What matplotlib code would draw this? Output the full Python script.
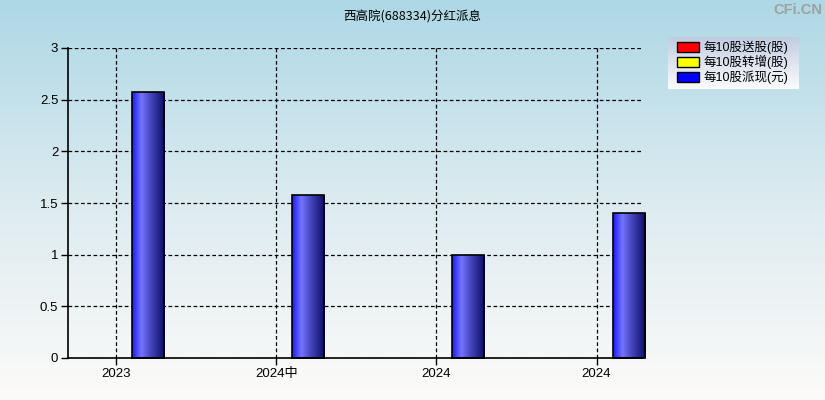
import numpy as np
import matplotlib
matplotlib.use("Agg")
import matplotlib.pyplot as plt
from matplotlib.colors import LinearSegmentedColormap
from matplotlib.patches import Rectangle

plt.rcParams['font.family'] = ['Liberation Sans', 'Noto Sans CJK SC', 'DejaVu Sans']

title = "西高院(688334)分红派息"
categories = ["2023", "2024中", "2024", "2024"]
song = [0, 0, 0, 0]        # 每10股送股(股)
zhuan = [0, 0, 0, 0]       # 每10股转增(股)
pai = [2.57, 1.58, 1.0, 1.4]  # 每10股派现(元)
legend_labels = ["每10股送股(股)", "每10股转增(股)", "每10股派现(元)"]
yticks = [0, 0.5, 1, 1.5, 2, 2.5, 3]

W, H = 825, 400
fig = plt.figure(figsize=(W / 100, H / 100), dpi=100)

# background gradient
bg = fig.add_axes([0, 0, 1, 1], zorder=-10)
bg_cmap = LinearSegmentedColormap.from_list("bg", ["#add8e6", "#dcebf0", "#fdfbf9"])
bg.imshow(np.linspace(0, 1, 256).reshape(-1, 1), aspect='auto', cmap=bg_cmap,
          extent=[0, 1, 0, 1], origin='upper')
bg.axis('off')

L, R, T, B = 68, 643, 48, 358
ax = fig.add_axes([L / W, 1 - B / H, (R - L) / W, (B - T) / H])
ax.patch.set_alpha(0)

x = np.arange(len(categories))
bw = 0.2
bars = ax.bar(x + bw, pai, width=bw, facecolor='none', edgecolor='black', linewidth=1.2,
              zorder=4, clip_on=False)

bar_cmap = LinearSegmentedColormap.from_list(
    "bar", [(0, "#1a1aff"), (0.28, "#7474ff"), (0.55, "#4848c0"), (1.0, "#0c0c68")])
grad = np.linspace(0, 1, 64).reshape(1, -1)
for b in bars:
    x0, y0 = b.get_x(), b.get_y()
    w, h = b.get_width(), b.get_height()
    im = ax.imshow(grad, aspect='auto', cmap=bar_cmap, extent=[x0, x0 + w, y0, y0 + h],
                   zorder=3, interpolation='bilinear')
    im.set_clip_path(Rectangle((x0, y0), w, h, transform=ax.transData))

ax.set_xlim(-0.3, 3.29)
ax.set_ylim(0, 3)
ax.set_xticks(x)
ax.set_xticklabels(categories, fontsize=9.5)
ax.set_yticks(yticks)
ax.set_yticklabels([f"{v:g}" for v in yticks], fontsize=9.5)
ax.tick_params(axis='both', length=5, width=1, color='black', direction='out', pad=2)
ax.grid(True, color='black', linestyle=(0, (3, 2)), linewidth=0.9, zorder=1)
ax.set_axisbelow(True)
for s in ['top', 'right']:
    ax.spines[s].set_visible(False)
for s in ['left', 'bottom']:
    ax.spines[s].set_linewidth(1.2)
    ax.spines[s].set_zorder(5)

fig.text(412 / W, 1 - 17 / H, title, ha='center', va='center', fontsize=9,
         family=['Noto Sans CJK SC', 'DejaVu Sans'])
fig.text(822 / W, 1 - 10 / H, "CFi.CN", ha='right', va='center', fontsize=10.5,
         fontweight='bold', color='#a0a0a0')

# legend box
lx0, ly0, lx1, ly1 = 668, 37, 799, 89
lg = fig.add_axes([lx0 / W, 1 - ly1 / H, (lx1 - lx0) / W, (ly1 - ly0) / H], zorder=6)
lg_cmap = LinearSegmentedColormap.from_list("lg", ["#c2cde2", "#fbfbfd"])
lg.imshow(np.linspace(0, 1, 64).reshape(-1, 1), aspect='auto', cmap=lg_cmap,
          extent=[0, lx1 - lx0, ly1 - ly0, 0], origin='upper')
lg.set_xlim(0, lx1 - lx0)
lg.set_ylim(ly1 - ly0, 0)
lg.axis('off')
colors = ['#ff0000', '#ffff00', '#0000ff']
for i, (lab, c) in enumerate(zip(legend_labels, colors)):
    cy = 10 + i * 15
    lg.add_patch(Rectangle((9, cy - 5), 22, 10, facecolor=c, edgecolor='black', linewidth=1))
    lg.text(35, cy, lab, va='center', ha='left', fontsize=9,
            family=['Liberation Sans', 'Noto Sans CJK SC'])

fig.savefig("out.png", dpi=100)
